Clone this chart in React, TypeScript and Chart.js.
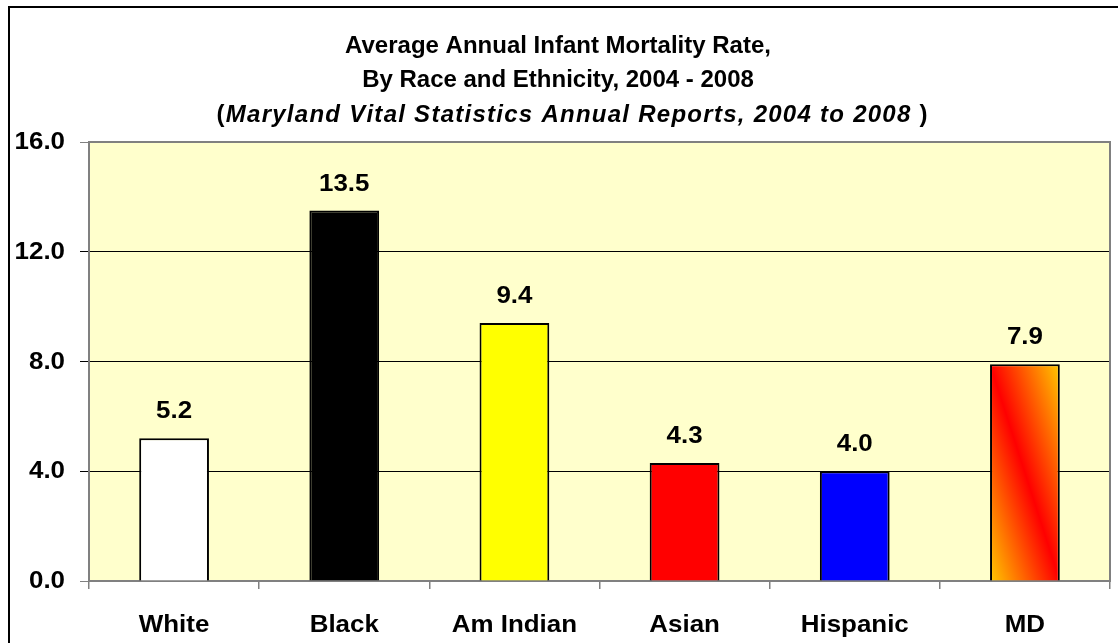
import { useEffect, useRef } from 'react';
import { Chart, registerables } from 'chart.js';

Chart.register(...registerables);

const categories = ['White', 'Black', 'Am Indian', 'Asian', 'Hispanic', 'MD'];
const rates = [5.2, 13.5, 9.4, 4.3, 4.0, 7.9];
const barColors = ['#FFFFFF', '#000000', '#FFFF00', '#FF0000', '#0000FF', 'gradient'];
const yTicks = [0, 4, 8, 12, 16];
const titleLine1 = 'Average Annual Infant Mortality Rate,';
const titleLine2 = 'By Race and Ethnicity, 2004 - 2008';
const titleLine3Source = 'Maryland Vital Statistics Annual Reports, 2004 to 2008';

const FONT_FAMILY = '"Liberation Sans", Arial, sans-serif';
const LABEL_FONT = `bold 24px ${FONT_FAMILY}`;
const LABEL_SX = 1.08;

function drawStretched(
  ctx: CanvasRenderingContext2D,
  text: string,
  x: number,
  y: number,
  align: 'left' | 'center' | 'right',
  font: string,
  sx: number
) {
  ctx.save();
  ctx.font = font;
  ctx.fillStyle = '#000';
  ctx.textAlign = 'left';
  ctx.textBaseline = 'alphabetic';
  const w = ctx.measureText(text).width * sx;
  const left = align === 'center' ? x - w / 2 : align === 'right' ? x - w : x;
  ctx.translate(left, y);
  ctx.scale(sx, 1);
  ctx.fillText(text, 0, 0);
  ctx.restore();
}

function drawSpaced(
  ctx: CanvasRenderingContext2D,
  segments: { text: string; font: string }[],
  centerX: number,
  y: number,
  targetWidth: number
) {
  ctx.save();
  ctx.fillStyle = '#000';
  ctx.textAlign = 'left';
  ctx.textBaseline = 'alphabetic';
  let natural = 0;
  let count = 0;
  for (const seg of segments) {
    ctx.font = seg.font;
    for (const ch of seg.text) {
      natural += ctx.measureText(ch).width;
      count++;
    }
  }
  const ls = (targetWidth - natural) / Math.max(1, count - 1);
  let x = centerX - targetWidth / 2;
  for (const seg of segments) {
    ctx.font = seg.font;
    for (const ch of seg.text) {
      ctx.fillText(ch, x, y);
      x += ctx.measureText(ch).width + ls;
    }
  }
  ctx.restore();
}

const backgroundPlugin = {
  id: 'plotBackground',
  beforeDraw(chart: any) {
    const { ctx, chartArea } = chart;
    ctx.save();
    ctx.fillStyle = '#FFFFFF';
    ctx.fillRect(0, 0, chart.width, chart.height);
    ctx.fillStyle = '#FFFFCC';
    ctx.fillRect(chartArea.left, chartArea.top, chartArea.right - chartArea.left, chartArea.bottom - chartArea.top);
    ctx.restore();
  },
  beforeDatasetsDraw(chart: any) {
    const { ctx, chartArea } = chart;
    ctx.save();
    ctx.strokeStyle = '#808080';
    ctx.lineWidth = 2;
    ctx.strokeRect(chartArea.left, chartArea.top, chartArea.right - chartArea.left, chartArea.bottom - chartArea.top);
    ctx.restore();
  },
};

const textPlugin = {
  id: 'texts',
  afterDraw(chart: any) {
    const { ctx } = chart;
    const xs = chart.scales.x;
    const ys = chart.scales.y;

    // outer frame
    ctx.save();
    ctx.strokeStyle = '#000';
    ctx.lineWidth = 2;
    ctx.beginPath();
    ctx.moveTo(9, chart.height);
    ctx.lineTo(9, 7);
    ctx.lineTo(chart.width, 7);
    ctx.stroke();
    ctx.restore();

    // title
    const titleFont = `bold 24px ${FONT_FAMILY}`;
    const titleItalic = `italic bold 24px ${FONT_FAMILY}`;
    drawStretched(ctx, titleLine1, 558, 53, 'center', titleFont, 1);
    drawStretched(ctx, titleLine2, 558, 87, 'center', titleFont, 1);
    drawSpaced(
      ctx,
      [
        { text: '(', font: titleFont },
        { text: titleLine3Source, font: titleItalic },
        { text: ' )', font: titleFont },
      ],
      572,
      122,
      711
    );

    // y tick labels
    for (const v of yTicks) {
      const y = ys.getPixelForValue(v);
      drawStretched(ctx, v.toFixed(1), 65, y + 7, 'right', LABEL_FONT, LABEL_SX);
    }

    // x labels
    categories.forEach((c, i) => {
      const x = xs.getPixelForValue(i);
      drawStretched(ctx, c, x, 632, 'center', LABEL_FONT, LABEL_SX);
    });

    // data labels
    const meta = chart.getDatasetMeta(0);
    meta.data.forEach((el: any, i: number) => {
      drawStretched(ctx, rates[i].toFixed(1), el.x, el.y - 20, 'center', LABEL_FONT, LABEL_SX);
    });
  },
};

export default function App() {
  const ref = useRef<HTMLCanvasElement>(null);

  useEffect(() => {
    const canvas = ref.current;
    if (!canvas) return;
    Chart.defaults.font.family = FONT_FAMILY;

    const chart = new Chart(canvas, {
      type: 'bar',
      data: {
        labels: categories,
        datasets: [
          {
            data: rates,
            backgroundColor: (c: any) => {
              const i = c.dataIndex;
              if (barColors[i] !== 'gradient') return barColors[i];
              const ch = c.chart;
              const xs = ch.scales.x;
              const ys = ch.scales.y;
              if (!xs || !ys || !ch.chartArea) return '#FF6600';
              const cx = xs.getPixelForValue(i);
              const w = (xs.width / categories.length) * 0.41;
              const top = ys.getPixelForValue(rates[i]);
              const bottom = ys.getPixelForValue(0);
              const h = bottom - top;
              const cy = (top + bottom) / 2;
              const L2 = w * w + h * h;
              const k = (w * h) / L2;
              const g = ch.ctx.createLinearGradient(cx - k * h, cy + k * w, cx + k * h, cy - k * w);
              g.addColorStop(0, '#FFC800');
              g.addColorStop(0.5, '#FF0000');
              g.addColorStop(1, '#FFC800');
              return g;
            },
            borderColor: '#000000',
            borderWidth: 2,
            barPercentage: 0.41,
            categoryPercentage: 1,
          },
        ],
      },
      options: {
        responsive: false,
        maintainAspectRatio: false,
        animation: false,
        layout: { padding: { left: 0, right: 8, top: 142, bottom: 0 } },
        plugins: {
          legend: { display: false },
          title: { display: false },
          tooltip: { enabled: false },
        },
        scales: {
          x: {
            grid: {
              offset: true,
              drawOnChartArea: false,
              drawTicks: true,
              tickLength: 8,
              color: '#808080',
              lineWidth: 1.5,
            },
            border: { display: true, color: '#808080', width: 2 },
            ticks: { display: false },
            afterFit: (s: any) => {
              s.height = 62;
            },
          },
          y: {
            min: 0,
            max: 16,
            ticks: { display: false, stepSize: 4 },
            grid: {
              color: (c: any) =>
                c.tick && (c.tick.value === 0 || c.tick.value === 16) ? '#808080' : '#000000',
              lineWidth: 1,
              tickLength: 9,
              drawTicks: true,
            },
            border: { display: true, color: '#808080', width: 2 },
            afterFit: (s: any) => {
              s.width = 89;
            },
          },
        },
      },
      plugins: [backgroundPlugin, textPlugin],
    });

    return () => chart.destroy();
  }, []);

  return (
    <div style={{ position: 'absolute', left: 0, top: 0, width: 1118, height: 643, overflow: 'hidden' }}>
      <canvas ref={ref} width={1118} height={643} style={{ display: 'block' }} />
    </div>
  );
}
